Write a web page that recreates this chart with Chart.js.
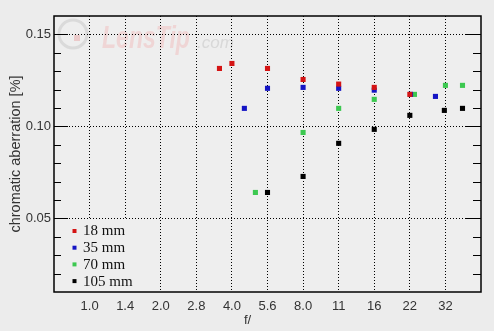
<!DOCTYPE html>
<html>
<head>
<meta charset="utf-8">
<script src="https://cdn.jsdelivr.net/npm/chart.js@4.4.0/dist/chart.umd.min.js"></script>
<style>
  html, body { margin: 0; padding: 0; background: #ececec; }
  .fontwarm { position: absolute; left: -999px; top: 0; }
</style>
</head>
<body>
<canvas id="caChart" width="494" height="331"></canvas>
<div class="fontwarm" style="font-family:'Liberation Sans'">a<b><i>a</i></b><i>a</i></div>
<div class="fontwarm" style="font-family:'Liberation Serif'">a</div>
<script>
// etiquetas do eixo x (posicao = numero do diafragma)
const fLabels = ['1.0', '1.4', '2.0', '2.8', '4.0', '5.6', '8.0', '11', '16', '22', '32'];
const yTicks = [0.05, 0.10, 0.15];
const seriesNames = ['18 mm', '35 mm', '70 mm', '105 mm'];
const seriesColors = ['#d41414', '#1414c4', '#3cc850', '#000000'];

// valores: posicao no eixo f e aberracao [%]
const stops18 = [3.65, 4, 5, 6, 7, 8, 9];
const ca18 = [0.1315, 0.1342, 0.1315, 0.1255, 0.1230, 0.1212, 0.1174];

const stops35 = [4.35, 5, 6, 7, 8, 9.02, 9.72];
const ca35 = [0.1098, 0.1207, 0.1212, 0.1207, 0.1197, 0.1174, 0.1163];

const stops70 = [4.66, 6, 7, 8, 9.13, 10, 10.48];
const ca70 = [0.0641, 0.0967, 0.1098, 0.1147, 0.1174, 0.1223, 0.1223];

const stops105 = [5, 6, 7, 8, 9, 9.97, 10.48];
const ca105 = [0.0641, 0.0728, 0.0908, 0.0984, 0.1060, 0.1087, 0.1098];

const allStops = [stops18, stops35, stops70, stops105];
const allCa = [ca18, ca35, ca70, ca105];

const SANS = '"Liberation Sans", Arial, sans-serif';
const SERIF = '"Liberation Serif", "Times New Roman", serif';
const PLOT_BG = '#eeeeee';

function toPoints(xs, ys) {
  return xs.map((x, i) => ({ x: x, y: ys[i] }));
}

// fundo, marca d'agua, moldura, ticks menores e legenda
const decorPlugin = {
  id: 'decor',
  beforeDraw(chart) {
    const ctx = chart.ctx;
    const a = chart.chartArea;
    ctx.save();
    ctx.fillStyle = '#ececec';
    ctx.fillRect(0, 0, chart.width, chart.height);
    ctx.fillStyle = PLOT_BG;
    ctx.fillRect(a.left, a.top, a.right - a.left, a.bottom - a.top);

    // marca d'agua LensTip
    ctx.strokeStyle = '#dadada';
    ctx.lineWidth = 3;
    ctx.beginPath();
    ctx.arc(73, 34, 14, 0, Math.PI * 2);
    ctx.stroke();
    ctx.fillStyle = '#ebcaca';
    ctx.fillRect(74, 35, 6, 6);
    ctx.save();
    ctx.translate(102, 48);
    ctx.scale(0.72, 1);
    ctx.font = 'italic bold 32px ' + SANS;
    ctx.fillStyle = '#efd5d5';
    ctx.fillText('LensTip', 0, 0);
    ctx.restore();
    ctx.font = 'italic 17px ' + SANS;
    ctx.fillStyle = '#d8d8d8';
    ctx.fillText('.com', 197, 48);
    ctx.restore();
  },
  afterDraw(chart) {
    const ctx = chart.ctx;
    const a = chart.chartArea;
    const yScale = chart.scales.y;
    ctx.save();

    // caixa da legenda (cobre a grade abaixo de 0.05)
    const boxTop = yScale.getPixelForValue(0.05) + 1;
    ctx.fillStyle = PLOT_BG;
    ctx.fillRect(a.left, boxTop, 96, a.bottom - boxTop);

    ctx.strokeStyle = '#000';
    ctx.lineWidth = 1.5;
    ctx.strokeRect(a.left, a.top, a.right - a.left, a.bottom - a.top);

    // ticks do eixo y, dos dois lados, para dentro
    ctx.lineWidth = 1.2;
    for (let k = 2; k <= 15; k++) {
      const v = k / 100;
      const py = Math.round(yScale.getPixelForValue(v)) + 0.5;
      const major = k % 5 === 0;
      ctx.beginPath();
      ctx.moveTo(a.left, py);
      ctx.lineTo(a.left + (major ? 14 : 7), py);
      ctx.moveTo(a.right, py);
      ctx.lineTo(a.right - (major ? 15 : 8), py);
      ctx.stroke();
    }

    // legenda dentro da area do grafico
    ctx.font = '15px ' + SERIF;
    ctx.textBaseline = 'middle';
    chart.data.datasets.forEach((ds, i) => {
      const cy = 231 + i * 16.7;
      ctx.fillStyle = ds.backgroundColor;
      ctx.fillRect(a.left + 18.5, cy - 2, 4, 4);
      ctx.fillStyle = '#111';
      ctx.fillText(ds.label, a.left + 29, cy + 0.5);
    });

    // titulo do eixo x
    ctx.font = '13px ' + SANS;
    ctx.fillStyle = '#333';
    ctx.textBaseline = 'alphabetic';
    ctx.fillText('f/', 244, 324);
    ctx.restore();
  }
};

function drawChart() {
  const canvasCa = document.getElementById('caChart').getContext('2d');

  new Chart(canvasCa, {
    type: 'scatter',
    data: {
      datasets: seriesNames.map((name, i) => ({
        label: name,
        data: toPoints(allStops[i], allCa[i]),
        backgroundColor: seriesColors[i],
        borderColor: seriesColors[i],
        pointStyle: 'rect',
        pointRadius: 3.6,
        pointHoverRadius: 3.6,
        borderWidth: 0
      }))
    },
    options: {
      responsive: false,
      animation: false,
      layout: { padding: { top: 16, right: 13, left: 0, bottom: 0 } },
      plugins: {
        legend: { display: false },
        tooltip: { enabled: false }
      },
      scales: {
        x: {
          type: 'linear',
          min: -1,
          max: 11,
          afterBuildTicks: (scale) => {
            scale.ticks = fLabels.map((l, i) => ({ value: i }));
          },
          afterFit: (scale) => { scale.height = 39; },
          ticks: {
            autoSkip: false,
            maxRotation: 0,
            padding: 7,
            color: '#333',
            font: { family: SANS, size: 13 },
            callback: (v) => fLabels[v] ?? ''
          },
          grid: { color: '#000', lineWidth: 1, drawTicks: false },
          border: { display: false, dash: [1, 2] }
        },
        y: {
          min: 0.01,
          max: 0.16,
          afterBuildTicks: (scale) => {
            scale.ticks = yTicks.map((v) => ({ value: v }));
          },
          afterFit: (scale) => { scale.width = 54; },
          ticks: {
            padding: 3,
            color: '#333',
            font: { family: SANS, size: 13 },
            callback: (v) => v.toFixed(2)
          },
          grid: { color: '#000', lineWidth: 1, drawTicks: false },
          border: { display: false, dash: [1, 2] },
          title: {
            display: true,
            text: 'chromatic aberration [%]',
            color: '#333',
            font: { family: SANS, size: 14.5 },
            padding: { top: 7, bottom: 0 }
          }
        }
      }
    },
    plugins: [decorPlugin]
  });
}

document.addEventListener('DOMContentLoaded', () => {
  Promise.all([
    document.fonts.load('13px "Liberation Sans"'),
    document.fonts.load('italic bold 32px "Liberation Sans"'),
    document.fonts.load('15px "Liberation Serif"')
  ]).catch(() => {}).then(drawChart);
});
</script>
</body>
</html>
